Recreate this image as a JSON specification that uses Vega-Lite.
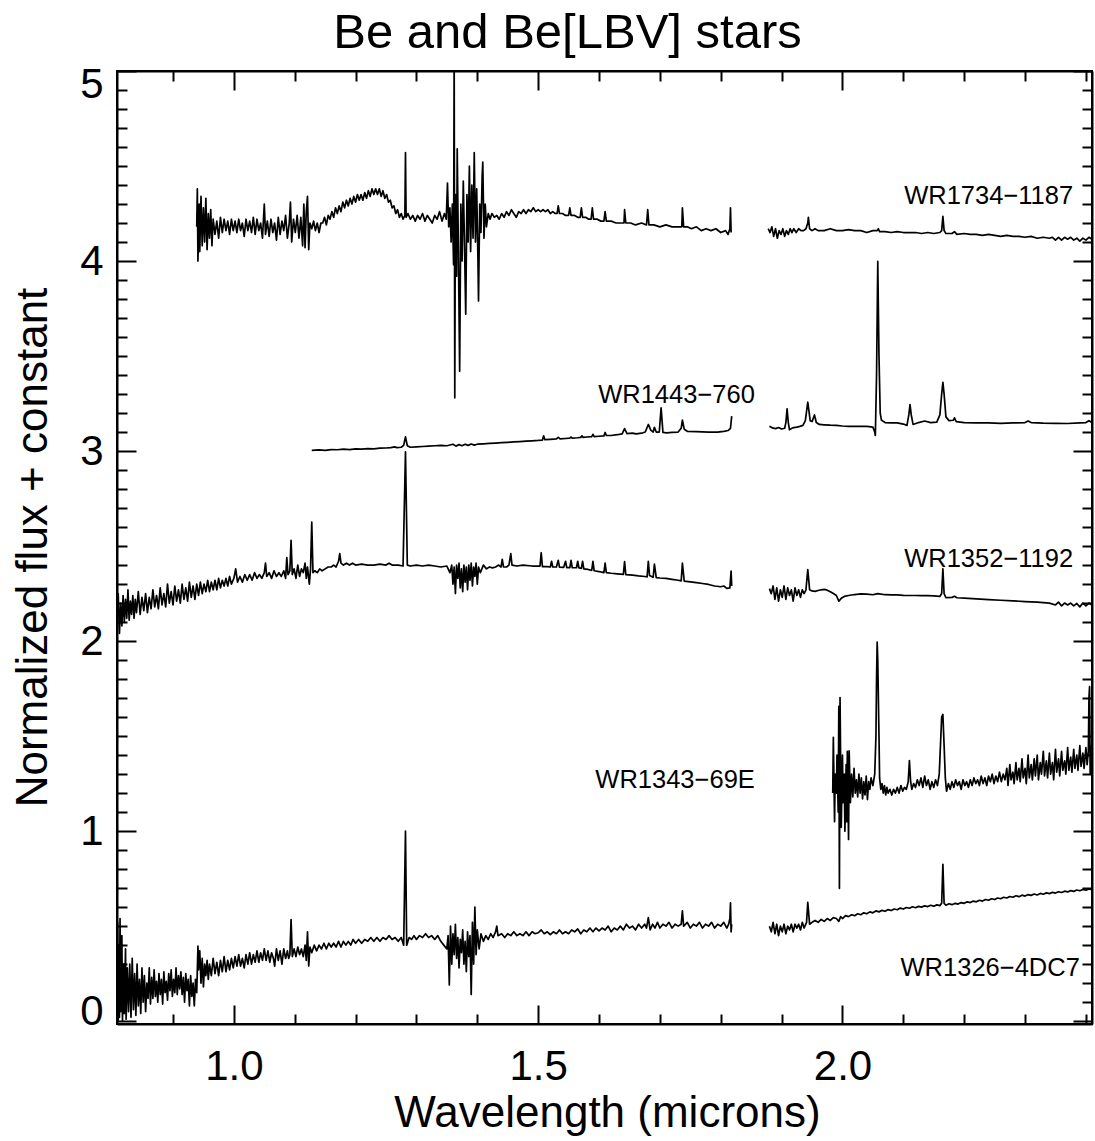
{
"$schema": "https://vega.github.io/schema/vega-lite/v6.json",
"width": 975, "height": 953,
"autosize": {"type": "none"},
"padding": {"left": 117, "top": 71, "right": 3, "bottom": 117},
"background": "white",
"config": {"view": {"stroke": "black", "strokeWidth": 2}, "font": "Liberation Sans"},
"title": {"text": "Be and Be[LBV] stars", "fontSize": 49, "font": "Liberation Sans", "fontWeight": "normal", "color": "black", "anchor": "middle", "dx": -37, "dy": 55, "offset": 21, "baseline": "alphabetic", "frame": "group"},
"datasets": {
"labels": [
{"x": 2.379, "y": 4.342, "t": "WR1734−1187"},
{"x": 1.856, "y": 3.295, "t": "WR1443−760"},
{"x": 2.379, "y": 2.432, "t": "WR1352−1192"},
{"x": 1.856, "y": 1.268, "t": "WR1343−69E"},
{"x": 2.390, "y": 0.279, "t": "WR1326−4DC7"}
],
"spec": [
{"g":"A1","x":0.939,"y":4.18},{"g":"A1","x":0.940,"y":4.38},{"g":"A1","x":0.941,"y":4.00},{"g":"A1","x":0.943,"y":4.30},{"g":"A1","x":0.944,"y":4.05},{"g":"A1","x":0.946,"y":4.34},{"g":"A1","x":0.948,"y":4.08},{"g":"A1","x":0.950,"y":4.28},{"g":"A1","x":0.952,"y":4.10},{"g":"A1","x":0.954,"y":4.33},{"g":"A1","x":0.956,"y":4.06},{"g":"A1","x":0.958,"y":4.25},{"g":"A1","x":0.960,"y":4.12},{"g":"A1","x":0.962,"y":4.27},{"g":"A1","x":0.964,"y":4.08},{"g":"A1","x":0.966,"y":4.22},{"g":"A1","x":0.969,"y":4.14},{"g":"A1","x":0.972,"y":4.21},{"g":"A1","x":0.975,"y":4.12},{"g":"A1","x":0.978,"y":4.23},{"g":"A1","x":0.981,"y":4.15},{"g":"A1","x":0.984,"y":4.22},{"g":"A1","x":0.987,"y":4.16},{"g":"A1","x":0.990,"y":4.21},{"g":"A1","x":0.993,"y":4.14},{"g":"A1","x":0.996,"y":4.22},{"g":"A1","x":0.999,"y":4.16},{"g":"A1","x":1.002,"y":4.21},{"g":"A1","x":1.005,"y":4.15},{"g":"A1","x":1.008,"y":4.22},{"g":"A1","x":1.011,"y":4.16},{"g":"A1","x":1.014,"y":4.20},{"g":"A1","x":1.017,"y":4.13},{"g":"A1","x":1.020,"y":4.22},{"g":"A1","x":1.023,"y":4.16},{"g":"A1","x":1.026,"y":4.21},{"g":"A1","x":1.029,"y":4.15},{"g":"A1","x":1.032,"y":4.23},{"g":"A1","x":1.035,"y":4.14},{"g":"A1","x":1.038,"y":4.22},{"g":"A1","x":1.041,"y":4.16},{"g":"A1","x":1.044,"y":4.20},{"g":"A1","x":1.047,"y":4.12},{"g":"A1","x":1.050,"y":4.30},{"g":"A1","x":1.052,"y":4.14},{"g":"A1","x":1.055,"y":4.21},{"g":"A1","x":1.058,"y":4.13},{"g":"A1","x":1.061,"y":4.22},{"g":"A1","x":1.064,"y":4.15},{"g":"A1","x":1.067,"y":4.20},{"g":"A1","x":1.070,"y":4.11},{"g":"A1","x":1.073,"y":4.23},{"g":"A1","x":1.076,"y":4.14},{"g":"A1","x":1.079,"y":4.21},{"g":"A1","x":1.082,"y":4.16},{"g":"A1","x":1.085,"y":4.24},{"g":"A1","x":1.088,"y":4.12},{"g":"A1","x":1.091,"y":4.20},{"g":"A1","x":1.093,"y":4.31},{"g":"A1","x":1.095,"y":4.10},{"g":"A1","x":1.098,"y":4.22},{"g":"A1","x":1.101,"y":4.15},{"g":"A1","x":1.104,"y":4.24},{"g":"A1","x":1.107,"y":4.12},{"g":"A1","x":1.110,"y":4.23},{"g":"A1","x":1.113,"y":4.08},{"g":"A1","x":1.115,"y":4.30},{"g":"A1","x":1.117,"y":4.07},{"g":"A1","x":1.119,"y":4.26},{"g":"A1","x":1.121,"y":4.34},{"g":"A1","x":1.123,"y":4.06},{"g":"A1","x":1.125,"y":4.20},{"g":"A1","x":1.128,"y":4.17},{"g":"A1","x":1.131,"y":4.21},{"g":"A1","x":1.134,"y":4.16},{"g":"A1","x":1.137,"y":4.20},{"g":"A1","x":1.140,"y":4.15},{"g":"A1","x":1.143,"y":4.20},{"g":"A1","x":1.146,"y":4.20},{"g":"A1","x":1.149,"y":4.23},{"g":"A1","x":1.152,"y":4.19},{"g":"A1","x":1.155,"y":4.24},{"g":"A1","x":1.158,"y":4.22},{"g":"A1","x":1.161,"y":4.26},{"g":"A1","x":1.164,"y":4.23},{"g":"A1","x":1.167,"y":4.28},{"g":"A1","x":1.170,"y":4.25},{"g":"A1","x":1.173,"y":4.29},{"g":"A1","x":1.176,"y":4.26},{"g":"A1","x":1.179,"y":4.31},{"g":"A1","x":1.182,"y":4.28},{"g":"A1","x":1.185,"y":4.32},{"g":"A1","x":1.188,"y":4.29},{"g":"A1","x":1.191,"y":4.33},{"g":"A1","x":1.194,"y":4.30},{"g":"A1","x":1.197,"y":4.34},{"g":"A1","x":1.200,"y":4.31},{"g":"A1","x":1.203,"y":4.35},{"g":"A1","x":1.206,"y":4.32},{"g":"A1","x":1.209,"y":4.35},{"g":"A1","x":1.212,"y":4.32},{"g":"A1","x":1.215,"y":4.36},{"g":"A1","x":1.218,"y":4.33},{"g":"A1","x":1.221,"y":4.37},{"g":"A1","x":1.224,"y":4.34},{"g":"A1","x":1.227,"y":4.38},{"g":"A1","x":1.230,"y":4.35},{"g":"A1","x":1.233,"y":4.38},{"g":"A1","x":1.236,"y":4.35},{"g":"A1","x":1.239,"y":4.38},{"g":"A1","x":1.242,"y":4.34},{"g":"A1","x":1.245,"y":4.37},{"g":"A1","x":1.248,"y":4.33},{"g":"A1","x":1.251,"y":4.35},{"g":"A1","x":1.254,"y":4.31},{"g":"A1","x":1.257,"y":4.32},{"g":"A1","x":1.260,"y":4.28},{"g":"A1","x":1.263,"y":4.29},{"g":"A1","x":1.266,"y":4.25},{"g":"A1","x":1.269,"y":4.27},{"g":"A1","x":1.272,"y":4.23},{"g":"A1","x":1.275,"y":4.25},{"g":"A1","x":1.278,"y":4.22},{"g":"A1","x":1.281,"y":4.24},{"g":"A1","x":1.282,"y":4.57},{"g":"A1","x":1.283,"y":4.23},{"g":"A1","x":1.286,"y":4.25},{"g":"A1","x":1.290,"y":4.22},{"g":"A1","x":1.294,"y":4.24},{"g":"A1","x":1.298,"y":4.21},{"g":"A1","x":1.302,"y":4.24},{"g":"A1","x":1.306,"y":4.22},{"g":"A1","x":1.310,"y":4.25},{"g":"A1","x":1.314,"y":4.21},{"g":"A1","x":1.318,"y":4.24},{"g":"A1","x":1.322,"y":4.22},{"g":"A1","x":1.326,"y":4.20},{"g":"A1","x":1.330,"y":4.24},{"g":"A1","x":1.334,"y":4.22},{"g":"A1","x":1.338,"y":4.26},{"g":"A1","x":1.342,"y":4.21},{"g":"A1","x":1.346,"y":4.25},{"g":"A1","x":1.349,"y":4.22},{"g":"A1","x":1.351,"y":4.41},{"g":"A1","x":1.353,"y":4.18},{"g":"A1","x":1.355,"y":4.28},{"g":"A1","x":1.357,"y":4.10},{"g":"A1","x":1.359,"y":4.30},{"g":"A1","x":1.361,"y":3.98},{"g":"A1","x":1.362,"y":5.10},{"g":"A1","x":1.363,"y":3.28},{"g":"A1","x":1.364,"y":4.35},{"g":"A1","x":1.366,"y":3.92},{"g":"A1","x":1.367,"y":4.59},{"g":"A1","x":1.369,"y":4.05},{"g":"A1","x":1.371,"y":3.42},{"g":"A1","x":1.373,"y":4.30},{"g":"A1","x":1.375,"y":4.00},{"g":"A1","x":1.377,"y":4.42},{"g":"A1","x":1.379,"y":4.08},{"g":"A1","x":1.381,"y":3.72},{"g":"A1","x":1.383,"y":4.35},{"g":"A1","x":1.385,"y":4.10},{"g":"A1","x":1.387,"y":4.50},{"g":"A1","x":1.389,"y":4.05},{"g":"A1","x":1.391,"y":4.40},{"g":"A1","x":1.393,"y":4.12},{"g":"A1","x":1.395,"y":4.57},{"g":"A1","x":1.397,"y":4.10},{"g":"A1","x":1.399,"y":4.38},{"g":"A1","x":1.401,"y":4.02},{"g":"A1","x":1.402,"y":3.79},{"g":"A1","x":1.404,"y":4.30},{"g":"A1","x":1.406,"y":4.15},{"g":"A1","x":1.408,"y":4.45},{"g":"A1","x":1.409,"y":4.52},{"g":"A1","x":1.411,"y":4.12},{"g":"A1","x":1.413,"y":4.30},{"g":"A1","x":1.415,"y":4.18},{"g":"A1","x":1.418,"y":4.25},{"g":"A1","x":1.421,"y":4.22},{"g":"A1","x":1.424,"y":4.25},{"g":"A1","x":1.428,"y":4.23},{"g":"A1","x":1.432,"y":4.24},{"g":"A1","x":1.436,"y":4.22},{"g":"A1","x":1.440,"y":4.25},{"g":"A1","x":1.444,"y":4.23},{"g":"A1","x":1.448,"y":4.26},{"g":"A1","x":1.452,"y":4.24},{"g":"A1","x":1.456,"y":4.27},{"g":"A1","x":1.460,"y":4.25},{"g":"A1","x":1.464,"y":4.23},{"g":"A1","x":1.468,"y":4.26},{"g":"A1","x":1.472,"y":4.25},{"g":"A1","x":1.476,"y":4.27},{"g":"A1","x":1.480,"y":4.25},{"g":"A1","x":1.484,"y":4.27},{"g":"A1","x":1.488,"y":4.26},{"g":"A1","x":1.492,"y":4.28},{"g":"A1","x":1.496,"y":4.26},{"g":"A1","x":1.500,"y":4.27},{"g":"A1","x":1.504,"y":4.26},{"g":"A1","x":1.508,"y":4.27},{"g":"A1","x":1.512,"y":4.26},{"g":"A1","x":1.516,"y":4.27},{"g":"A1","x":1.520,"y":4.25},{"g":"A1","x":1.524,"y":4.26},{"g":"A1","x":1.528,"y":4.25},{"g":"A1","x":1.531,"y":4.25},{"g":"A1","x":1.533,"y":4.29},{"g":"A1","x":1.535,"y":4.25},{"g":"A1","x":1.540,"y":4.25},{"g":"A1","x":1.545,"y":4.24},{"g":"A1","x":1.550,"y":4.24},{"g":"A1","x":1.552,"y":4.28},{"g":"A1","x":1.554,"y":4.24},{"g":"A1","x":1.560,"y":4.24},{"g":"A1","x":1.565,"y":4.23},{"g":"A1","x":1.569,"y":4.23},{"g":"A1","x":1.571,"y":4.28},{"g":"A1","x":1.573,"y":4.23},{"g":"A1","x":1.578,"y":4.23},{"g":"A1","x":1.583,"y":4.22},{"g":"A1","x":1.587,"y":4.22},{"g":"A1","x":1.589,"y":4.28},{"g":"A1","x":1.591,"y":4.22},{"g":"A1","x":1.597,"y":4.22},{"g":"A1","x":1.603,"y":4.21},{"g":"A1","x":1.608,"y":4.21},{"g":"A1","x":1.610,"y":4.26},{"g":"A1","x":1.612,"y":4.21},{"g":"A1","x":1.620,"y":4.21},{"g":"A1","x":1.628,"y":4.20},{"g":"A1","x":1.636,"y":4.20},{"g":"A1","x":1.641,"y":4.20},{"g":"A1","x":1.642,"y":4.27},{"g":"A1","x":1.644,"y":4.20},{"g":"A1","x":1.652,"y":4.20},{"g":"A1","x":1.660,"y":4.19},{"g":"A1","x":1.670,"y":4.20},{"g":"A1","x":1.678,"y":4.19},{"g":"A1","x":1.680,"y":4.27},{"g":"A1","x":1.682,"y":4.19},{"g":"A1","x":1.690,"y":4.19},{"g":"A1","x":1.700,"y":4.18},{"g":"A1","x":1.710,"y":4.19},{"g":"A1","x":1.720,"y":4.18},{"g":"A1","x":1.730,"y":4.18},{"g":"A1","x":1.736,"y":4.18},{"g":"A1","x":1.737,"y":4.28},{"g":"A1","x":1.739,"y":4.18},{"g":"A1","x":1.745,"y":4.18},{"g":"A1","x":1.752,"y":4.17},{"g":"A1","x":1.760,"y":4.18},{"g":"A1","x":1.768,"y":4.16},{"g":"A1","x":1.776,"y":4.17},{"g":"A1","x":1.784,"y":4.16},{"g":"A1","x":1.792,"y":4.17},{"g":"A1","x":1.800,"y":4.15},{"g":"A1","x":1.808,"y":4.16},{"g":"A1","x":1.812,"y":4.14},{"g":"A1","x":1.815,"y":4.17},{"g":"A1","x":1.816,"y":4.28},{"g":"A1","x":1.817,"y":4.15},
{"g":"A2","x":1.878,"y":4.17},{"g":"A2","x":1.881,"y":4.15},{"g":"A2","x":1.884,"y":4.18},{"g":"A2","x":1.887,"y":4.13},{"g":"A2","x":1.890,"y":4.17},{"g":"A2","x":1.893,"y":4.12},{"g":"A2","x":1.896,"y":4.16},{"g":"A2","x":1.899,"y":4.14},{"g":"A2","x":1.902,"y":4.17},{"g":"A2","x":1.905,"y":4.13},{"g":"A2","x":1.908,"y":4.16},{"g":"A2","x":1.911,"y":4.14},{"g":"A2","x":1.914,"y":4.17},{"g":"A2","x":1.917,"y":4.15},{"g":"A2","x":1.920,"y":4.17},{"g":"A2","x":1.924,"y":4.15},{"g":"A2","x":1.928,"y":4.17},{"g":"A2","x":1.932,"y":4.16},{"g":"A2","x":1.936,"y":4.16},{"g":"A2","x":1.940,"y":4.17},{"g":"A2","x":1.943,"y":4.20},{"g":"A2","x":1.944,"y":4.23},{"g":"A2","x":1.946,"y":4.17},{"g":"A2","x":1.950,"y":4.16},{"g":"A2","x":1.955,"y":4.17},{"g":"A2","x":1.960,"y":4.16},{"g":"A2","x":1.970,"y":4.16},{"g":"A2","x":1.980,"y":4.17},{"g":"A2","x":1.990,"y":4.16},{"g":"A2","x":2.000,"y":4.16},{"g":"A2","x":2.010,"y":4.165},{"g":"A2","x":2.020,"y":4.16},{"g":"A2","x":2.030,"y":4.16},{"g":"A2","x":2.040,"y":4.15},{"g":"A2","x":2.050,"y":4.16},{"g":"A2","x":2.057,"y":4.16},{"g":"A2","x":2.059,"y":4.17},{"g":"A2","x":2.061,"y":4.155},{"g":"A2","x":2.070,"y":4.155},{"g":"A2","x":2.080,"y":4.15},{"g":"A2","x":2.090,"y":4.155},{"g":"A2","x":2.100,"y":4.15},{"g":"A2","x":2.110,"y":4.15},{"g":"A2","x":2.120,"y":4.15},{"g":"A2","x":2.130,"y":4.145},{"g":"A2","x":2.140,"y":4.15},{"g":"A2","x":2.150,"y":4.145},{"g":"A2","x":2.160,"y":4.15},{"g":"A2","x":2.163,"y":4.16},{"g":"A2","x":2.165,"y":4.235},{"g":"A2","x":2.167,"y":4.16},{"g":"A2","x":2.170,"y":4.145},{"g":"A2","x":2.180,"y":4.145},{"g":"A2","x":2.184,"y":4.155},{"g":"A2","x":2.188,"y":4.14},{"g":"A2","x":2.200,"y":4.145},{"g":"A2","x":2.210,"y":4.14},{"g":"A2","x":2.220,"y":4.14},{"g":"A2","x":2.230,"y":4.135},{"g":"A2","x":2.240,"y":4.14},{"g":"A2","x":2.250,"y":4.135},{"g":"A2","x":2.260,"y":4.13},{"g":"A2","x":2.270,"y":4.135},{"g":"A2","x":2.280,"y":4.13},{"g":"A2","x":2.290,"y":4.13},{"g":"A2","x":2.300,"y":4.125},{"g":"A2","x":2.310,"y":4.13},{"g":"A2","x":2.320,"y":4.12},{"g":"A2","x":2.330,"y":4.125},{"g":"A2","x":2.340,"y":4.12},{"g":"A2","x":2.345,"y":4.125},{"g":"A2","x":2.350,"y":4.11},{"g":"A2","x":2.355,"y":4.125},{"g":"A2","x":2.360,"y":4.11},{"g":"A2","x":2.365,"y":4.125},{"g":"A2","x":2.370,"y":4.115},{"g":"A2","x":2.375,"y":4.125},{"g":"A2","x":2.380,"y":4.11},{"g":"A2","x":2.385,"y":4.12},{"g":"A2","x":2.390,"y":4.105},{"g":"A2","x":2.395,"y":4.12},{"g":"A2","x":2.400,"y":4.11},{"g":"A2","x":2.405,"y":4.125},{"g":"A2","x":2.410,"y":4.115},
{"g":"B1","x":1.128,"y":3.004},{"g":"B1","x":1.140,"y":3.006},{"g":"B1","x":1.150,"y":3.004},{"g":"B1","x":1.160,"y":3.008},{"g":"B1","x":1.170,"y":3.007},{"g":"B1","x":1.180,"y":3.010},{"g":"B1","x":1.190,"y":3.008},{"g":"B1","x":1.200,"y":3.011},{"g":"B1","x":1.210,"y":3.010},{"g":"B1","x":1.220,"y":3.013},{"g":"B1","x":1.230,"y":3.012},{"g":"B1","x":1.240,"y":3.015},{"g":"B1","x":1.250,"y":3.016},{"g":"B1","x":1.258,"y":3.018},{"g":"B1","x":1.264,"y":3.022},{"g":"B1","x":1.268,"y":3.018},{"g":"B1","x":1.275,"y":3.020},{"g":"B1","x":1.279,"y":3.030},{"g":"B1","x":1.282,"y":3.075},{"g":"B1","x":1.285,"y":3.028},{"g":"B1","x":1.290,"y":3.020},{"g":"B1","x":1.300,"y":3.022},{"g":"B1","x":1.310,"y":3.024},{"g":"B1","x":1.320,"y":3.026},{"g":"B1","x":1.330,"y":3.028},{"g":"B1","x":1.340,"y":3.030},{"g":"B1","x":1.350,"y":3.028},{"g":"B1","x":1.360,"y":3.036},{"g":"B1","x":1.365,"y":3.026},{"g":"B1","x":1.370,"y":3.034},{"g":"B1","x":1.375,"y":3.028},{"g":"B1","x":1.380,"y":3.036},{"g":"B1","x":1.385,"y":3.030},{"g":"B1","x":1.390,"y":3.037},{"g":"B1","x":1.395,"y":3.031},{"g":"B1","x":1.400,"y":3.036},{"g":"B1","x":1.410,"y":3.038},{"g":"B1","x":1.420,"y":3.040},{"g":"B1","x":1.430,"y":3.042},{"g":"B1","x":1.440,"y":3.044},{"g":"B1","x":1.450,"y":3.046},{"g":"B1","x":1.460,"y":3.048},{"g":"B1","x":1.470,"y":3.050},{"g":"B1","x":1.480,"y":3.052},{"g":"B1","x":1.490,"y":3.054},{"g":"B1","x":1.500,"y":3.056},{"g":"B1","x":1.507,"y":3.058},{"g":"B1","x":1.509,"y":3.080},{"g":"B1","x":1.511,"y":3.060},{"g":"B1","x":1.520,"y":3.062},{"g":"B1","x":1.530,"y":3.064},{"g":"B1","x":1.533,"y":3.072},{"g":"B1","x":1.536,"y":3.064},{"g":"B1","x":1.545,"y":3.066},{"g":"B1","x":1.552,"y":3.068},{"g":"B1","x":1.554,"y":3.074},{"g":"B1","x":1.556,"y":3.068},{"g":"B1","x":1.565,"y":3.070},{"g":"B1","x":1.570,"y":3.072},{"g":"B1","x":1.572,"y":3.080},{"g":"B1","x":1.574,"y":3.072},{"g":"B1","x":1.580,"y":3.074},{"g":"B1","x":1.588,"y":3.076},{"g":"B1","x":1.590,"y":3.088},{"g":"B1","x":1.592,"y":3.076},{"g":"B1","x":1.600,"y":3.078},{"g":"B1","x":1.608,"y":3.080},{"g":"B1","x":1.610,"y":3.098},{"g":"B1","x":1.612,"y":3.082},{"g":"B1","x":1.620,"y":3.082},{"g":"B1","x":1.630,"y":3.086},{"g":"B1","x":1.638,"y":3.090},{"g":"B1","x":1.642,"y":3.118},{"g":"B1","x":1.646,"y":3.092},{"g":"B1","x":1.655,"y":3.094},{"g":"B1","x":1.661,"y":3.090},{"g":"B1","x":1.670,"y":3.094},{"g":"B1","x":1.676,"y":3.100},{"g":"B1","x":1.681,"y":3.140},{"g":"B1","x":1.685,"y":3.110},{"g":"B1","x":1.689,"y":3.100},{"g":"B1","x":1.691,"y":3.125},{"g":"B1","x":1.694,"y":3.100},{"g":"B1","x":1.699,"y":3.100},{"g":"B1","x":1.702,"y":3.228},{"g":"B1","x":1.705,"y":3.098},{"g":"B1","x":1.711,"y":3.096},{"g":"B1","x":1.720,"y":3.098},{"g":"B1","x":1.730,"y":3.100},{"g":"B1","x":1.735,"y":3.120},{"g":"B1","x":1.737,"y":3.163},{"g":"B1","x":1.740,"y":3.115},{"g":"B1","x":1.745,"y":3.104},{"g":"B1","x":1.760,"y":3.102},{"g":"B1","x":1.780,"y":3.100},{"g":"B1","x":1.795,"y":3.100},{"g":"B1","x":1.805,"y":3.104},{"g":"B1","x":1.812,"y":3.108},{"g":"B1","x":1.816,"y":3.120},{"g":"B1","x":1.818,"y":3.184},
{"g":"B2","x":1.880,"y":3.130},{"g":"B2","x":1.885,"y":3.122},{"g":"B2","x":1.890,"y":3.118},{"g":"B2","x":1.895,"y":3.124},{"g":"B2","x":1.900,"y":3.116},{"g":"B2","x":1.905,"y":3.120},{"g":"B2","x":1.907,"y":3.150},{"g":"B2","x":1.909,"y":3.222},{"g":"B2","x":1.911,"y":3.150},{"g":"B2","x":1.913,"y":3.112},{"g":"B2","x":1.918,"y":3.122},{"g":"B2","x":1.925,"y":3.126},{"g":"B2","x":1.930,"y":3.130},{"g":"B2","x":1.935,"y":3.135},{"g":"B2","x":1.939,"y":3.160},{"g":"B2","x":1.943,"y":3.257},{"g":"B2","x":1.947,"y":3.160},{"g":"B2","x":1.950,"y":3.155},{"g":"B2","x":1.954,"y":3.190},{"g":"B2","x":1.957,"y":3.150},{"g":"B2","x":1.962,"y":3.140},{"g":"B2","x":1.970,"y":3.138},{"g":"B2","x":1.980,"y":3.136},{"g":"B2","x":1.990,"y":3.135},{"g":"B2","x":2.000,"y":3.132},{"g":"B2","x":2.010,"y":3.130},{"g":"B2","x":2.020,"y":3.130},{"g":"B2","x":2.030,"y":3.130},{"g":"B2","x":2.040,"y":3.130},{"g":"B2","x":2.050,"y":3.126},{"g":"B2","x":2.053,"y":3.100},{"g":"B2","x":2.054,"y":3.082},{"g":"B2","x":2.056,"y":3.400},{"g":"B2","x":2.058,"y":3.998},{"g":"B2","x":2.060,"y":3.500},{"g":"B2","x":2.062,"y":3.200},{"g":"B2","x":2.064,"y":3.163},{"g":"B2","x":2.070,"y":3.150},{"g":"B2","x":2.080,"y":3.148},{"g":"B2","x":2.090,"y":3.148},{"g":"B2","x":2.100,"y":3.142},{"g":"B2","x":2.106,"y":3.135},{"g":"B2","x":2.109,"y":3.190},{"g":"B2","x":2.111,"y":3.245},{"g":"B2","x":2.113,"y":3.190},{"g":"B2","x":2.116,"y":3.140},{"g":"B2","x":2.125,"y":3.150},{"g":"B2","x":2.135,"y":3.158},{"g":"B2","x":2.145,"y":3.150},{"g":"B2","x":2.155,"y":3.152},{"g":"B2","x":2.160,"y":3.190},{"g":"B2","x":2.163,"y":3.300},{"g":"B2","x":2.165,"y":3.362},{"g":"B2","x":2.167,"y":3.300},{"g":"B2","x":2.170,"y":3.180},{"g":"B2","x":2.175,"y":3.160},{"g":"B2","x":2.182,"y":3.162},{"g":"B2","x":2.184,"y":3.175},{"g":"B2","x":2.187,"y":3.155},{"g":"B2","x":2.200,"y":3.150},{"g":"B2","x":2.220,"y":3.148},{"g":"B2","x":2.240,"y":3.148},{"g":"B2","x":2.260,"y":3.146},{"g":"B2","x":2.280,"y":3.148},{"g":"B2","x":2.300,"y":3.150},{"g":"B2","x":2.305,"y":3.158},{"g":"B2","x":2.310,"y":3.150},{"g":"B2","x":2.330,"y":3.147},{"g":"B2","x":2.350,"y":3.146},{"g":"B2","x":2.370,"y":3.145},{"g":"B2","x":2.390,"y":3.148},{"g":"B2","x":2.400,"y":3.150},{"g":"B2","x":2.405,"y":3.160},{"g":"B2","x":2.410,"y":3.150},
{"g":"C1","x":0.808,"y":2.10},{"g":"C1","x":0.810,"y":2.25},{"g":"C1","x":0.812,"y":2.04},{"g":"C1","x":0.814,"y":2.20},{"g":"C1","x":0.816,"y":2.08},{"g":"C1","x":0.818,"y":2.24},{"g":"C1","x":0.820,"y":2.10},{"g":"C1","x":0.822,"y":2.22},{"g":"C1","x":0.824,"y":2.12},{"g":"C1","x":0.826,"y":2.27},{"g":"C1","x":0.828,"y":2.11},{"g":"C1","x":0.830,"y":2.21},{"g":"C1","x":0.832,"y":2.14},{"g":"C1","x":0.834,"y":2.24},{"g":"C1","x":0.836,"y":2.12},{"g":"C1","x":0.838,"y":2.22},{"g":"C1","x":0.840,"y":2.15},{"g":"C1","x":0.843,"y":2.26},{"g":"C1","x":0.846,"y":2.14},{"g":"C1","x":0.849,"y":2.23},{"g":"C1","x":0.852,"y":2.16},{"g":"C1","x":0.855,"y":2.25},{"g":"C1","x":0.858,"y":2.15},{"g":"C1","x":0.861,"y":2.23},{"g":"C1","x":0.864,"y":2.17},{"g":"C1","x":0.867,"y":2.27},{"g":"C1","x":0.870,"y":2.18},{"g":"C1","x":0.873,"y":2.24},{"g":"C1","x":0.876,"y":2.17},{"g":"C1","x":0.879,"y":2.28},{"g":"C1","x":0.882,"y":2.19},{"g":"C1","x":0.885,"y":2.25},{"g":"C1","x":0.888,"y":2.18},{"g":"C1","x":0.891,"y":2.30},{"g":"C1","x":0.894,"y":2.20},{"g":"C1","x":0.897,"y":2.26},{"g":"C1","x":0.900,"y":2.19},{"g":"C1","x":0.903,"y":2.29},{"g":"C1","x":0.906,"y":2.21},{"g":"C1","x":0.909,"y":2.27},{"g":"C1","x":0.912,"y":2.20},{"g":"C1","x":0.915,"y":2.30},{"g":"C1","x":0.918,"y":2.22},{"g":"C1","x":0.921,"y":2.28},{"g":"C1","x":0.924,"y":2.21},{"g":"C1","x":0.927,"y":2.31},{"g":"C1","x":0.930,"y":2.23},{"g":"C1","x":0.933,"y":2.29},{"g":"C1","x":0.936,"y":2.22},{"g":"C1","x":0.939,"y":2.30},{"g":"C1","x":0.942,"y":2.24},{"g":"C1","x":0.945,"y":2.31},{"g":"C1","x":0.948,"y":2.25},{"g":"C1","x":0.951,"y":2.30},{"g":"C1","x":0.954,"y":2.26},{"g":"C1","x":0.957,"y":2.32},{"g":"C1","x":0.960,"y":2.26},{"g":"C1","x":0.963,"y":2.31},{"g":"C1","x":0.966,"y":2.27},{"g":"C1","x":0.969,"y":2.32},{"g":"C1","x":0.972,"y":2.27},{"g":"C1","x":0.975,"y":2.33},{"g":"C1","x":0.978,"y":2.28},{"g":"C1","x":0.981,"y":2.32},{"g":"C1","x":0.984,"y":2.29},{"g":"C1","x":0.987,"y":2.33},{"g":"C1","x":0.990,"y":2.29},{"g":"C1","x":0.993,"y":2.34},{"g":"C1","x":0.996,"y":2.30},{"g":"C1","x":1.000,"y":2.33},{"g":"C1","x":1.003,"y":2.38},{"g":"C1","x":1.006,"y":2.31},{"g":"C1","x":1.010,"y":2.34},{"g":"C1","x":1.014,"y":2.31},{"g":"C1","x":1.018,"y":2.35},{"g":"C1","x":1.022,"y":2.32},{"g":"C1","x":1.026,"y":2.35},{"g":"C1","x":1.030,"y":2.32},{"g":"C1","x":1.034,"y":2.36},{"g":"C1","x":1.038,"y":2.33},{"g":"C1","x":1.042,"y":2.35},{"g":"C1","x":1.046,"y":2.33},{"g":"C1","x":1.050,"y":2.36},{"g":"C1","x":1.052,"y":2.41},{"g":"C1","x":1.054,"y":2.34},{"g":"C1","x":1.058,"y":2.36},{"g":"C1","x":1.062,"y":2.33},{"g":"C1","x":1.066,"y":2.37},{"g":"C1","x":1.070,"y":2.34},{"g":"C1","x":1.074,"y":2.36},{"g":"C1","x":1.078,"y":2.34},{"g":"C1","x":1.082,"y":2.37},{"g":"C1","x":1.085,"y":2.33},{"g":"C1","x":1.087,"y":2.44},{"g":"C1","x":1.089,"y":2.35},{"g":"C1","x":1.092,"y":2.37},{"g":"C1","x":1.094,"y":2.53},{"g":"C1","x":1.096,"y":2.35},{"g":"C1","x":1.099,"y":2.38},{"g":"C1","x":1.102,"y":2.33},{"g":"C1","x":1.105,"y":2.40},{"g":"C1","x":1.108,"y":2.34},{"g":"C1","x":1.111,"y":2.38},{"g":"C1","x":1.114,"y":2.36},{"g":"C1","x":1.117,"y":2.41},{"g":"C1","x":1.119,"y":2.33},{"g":"C1","x":1.121,"y":2.39},{"g":"C1","x":1.124,"y":2.30},{"g":"C1","x":1.126,"y":2.38},{"g":"C1","x":1.128,"y":2.626},{"g":"C1","x":1.130,"y":2.36},{"g":"C1","x":1.133,"y":2.37},{"g":"C1","x":1.137,"y":2.36},{"g":"C1","x":1.141,"y":2.38},{"g":"C1","x":1.145,"y":2.37},{"g":"C1","x":1.150,"y":2.38},{"g":"C1","x":1.155,"y":2.39},{"g":"C1","x":1.160,"y":2.39},{"g":"C1","x":1.164,"y":2.40},{"g":"C1","x":1.168,"y":2.39},{"g":"C1","x":1.172,"y":2.42},{"g":"C1","x":1.174,"y":2.46},{"g":"C1","x":1.176,"y":2.41},{"g":"C1","x":1.180,"y":2.40},{"g":"C1","x":1.185,"y":2.41},{"g":"C1","x":1.190,"y":2.40},{"g":"C1","x":1.195,"y":2.41},{"g":"C1","x":1.200,"y":2.40},{"g":"C1","x":1.210,"y":2.405},{"g":"C1","x":1.220,"y":2.40},{"g":"C1","x":1.230,"y":2.40},{"g":"C1","x":1.240,"y":2.405},{"g":"C1","x":1.250,"y":2.40},{"g":"C1","x":1.255,"y":2.41},{"g":"C1","x":1.260,"y":2.40},{"g":"C1","x":1.270,"y":2.40},{"g":"C1","x":1.278,"y":2.395},{"g":"C1","x":1.282,"y":2.996},{"g":"C1","x":1.285,"y":2.40},{"g":"C1","x":1.290,"y":2.395},{"g":"C1","x":1.300,"y":2.40},{"g":"C1","x":1.310,"y":2.395},{"g":"C1","x":1.320,"y":2.40},{"g":"C1","x":1.330,"y":2.395},{"g":"C1","x":1.340,"y":2.39},{"g":"C1","x":1.350,"y":2.395},{"g":"C1","x":1.355,"y":2.36},{"g":"C1","x":1.358,"y":2.40},{"g":"C1","x":1.360,"y":2.30},{"g":"C1","x":1.362,"y":2.39},{"g":"C1","x":1.364,"y":2.25},{"g":"C1","x":1.366,"y":2.40},{"g":"C1","x":1.368,"y":2.33},{"g":"C1","x":1.370,"y":2.41},{"g":"C1","x":1.372,"y":2.28},{"g":"C1","x":1.374,"y":2.38},{"g":"C1","x":1.376,"y":2.26},{"g":"C1","x":1.378,"y":2.40},{"g":"C1","x":1.380,"y":2.31},{"g":"C1","x":1.382,"y":2.39},{"g":"C1","x":1.384,"y":2.27},{"g":"C1","x":1.386,"y":2.40},{"g":"C1","x":1.388,"y":2.32},{"g":"C1","x":1.390,"y":2.41},{"g":"C1","x":1.392,"y":2.29},{"g":"C1","x":1.394,"y":2.39},{"g":"C1","x":1.396,"y":2.34},{"g":"C1","x":1.398,"y":2.41},{"g":"C1","x":1.400,"y":2.30},{"g":"C1","x":1.402,"y":2.39},{"g":"C1","x":1.405,"y":2.36},{"g":"C1","x":1.410,"y":2.40},{"g":"C1","x":1.415,"y":2.38},{"g":"C1","x":1.420,"y":2.39},{"g":"C1","x":1.425,"y":2.385},{"g":"C1","x":1.430,"y":2.39},{"g":"C1","x":1.435,"y":2.40},{"g":"C1","x":1.439,"y":2.39},{"g":"C1","x":1.441,"y":2.43},{"g":"C1","x":1.443,"y":2.39},{"g":"C1","x":1.448,"y":2.39},{"g":"C1","x":1.452,"y":2.40},{"g":"C1","x":1.455,"y":2.46},{"g":"C1","x":1.457,"y":2.40},{"g":"C1","x":1.465,"y":2.395},{"g":"C1","x":1.475,"y":2.40},{"g":"C1","x":1.490,"y":2.395},{"g":"C1","x":1.500,"y":2.395},{"g":"C1","x":1.503,"y":2.395},{"g":"C1","x":1.505,"y":2.465},{"g":"C1","x":1.507,"y":2.392},{"g":"C1","x":1.515,"y":2.392},{"g":"C1","x":1.520,"y":2.39},{"g":"C1","x":1.522,"y":2.42},{"g":"C1","x":1.524,"y":2.39},{"g":"C1","x":1.530,"y":2.39},{"g":"C1","x":1.533,"y":2.425},{"g":"C1","x":1.535,"y":2.389},{"g":"C1","x":1.542,"y":2.388},{"g":"C1","x":1.545,"y":2.42},{"g":"C1","x":1.547,"y":2.387},{"g":"C1","x":1.552,"y":2.387},{"g":"C1","x":1.554,"y":2.425},{"g":"C1","x":1.556,"y":2.386},{"g":"C1","x":1.563,"y":2.386},{"g":"C1","x":1.565,"y":2.42},{"g":"C1","x":1.567,"y":2.385},{"g":"C1","x":1.571,"y":2.383},{"g":"C1","x":1.573,"y":2.42},{"g":"C1","x":1.575,"y":2.38},{"g":"C1","x":1.582,"y":2.377},{"g":"C1","x":1.588,"y":2.372},{"g":"C1","x":1.590,"y":2.42},{"g":"C1","x":1.592,"y":2.37},{"g":"C1","x":1.600,"y":2.366},{"g":"C1","x":1.608,"y":2.36},{"g":"C1","x":1.610,"y":2.41},{"g":"C1","x":1.612,"y":2.36},{"g":"C1","x":1.620,"y":2.357},{"g":"C1","x":1.630,"y":2.354},{"g":"C1","x":1.640,"y":2.351},{"g":"C1","x":1.642,"y":2.418},{"g":"C1","x":1.644,"y":2.35},{"g":"C1","x":1.655,"y":2.347},{"g":"C1","x":1.665,"y":2.343},{"g":"C1","x":1.675,"y":2.34},{"g":"C1","x":1.679,"y":2.338},{"g":"C1","x":1.681,"y":2.42},{"g":"C1","x":1.683,"y":2.345},{"g":"C1","x":1.689,"y":2.336},{"g":"C1","x":1.691,"y":2.405},{"g":"C1","x":1.694,"y":2.334},{"g":"C1","x":1.700,"y":2.332},{"g":"C1","x":1.710,"y":2.33},{"g":"C1","x":1.720,"y":2.325},{"g":"C1","x":1.730,"y":2.32},{"g":"C1","x":1.735,"y":2.317},{"g":"C1","x":1.737,"y":2.41},{"g":"C1","x":1.740,"y":2.316},{"g":"C1","x":1.750,"y":2.312},{"g":"C1","x":1.760,"y":2.308},{"g":"C1","x":1.770,"y":2.303},{"g":"C1","x":1.780,"y":2.298},{"g":"C1","x":1.790,"y":2.29},{"g":"C1","x":1.800,"y":2.286},{"g":"C1","x":1.805,"y":2.29},{"g":"C1","x":1.810,"y":2.277},{"g":"C1","x":1.815,"y":2.28},{"g":"C1","x":1.817,"y":2.368},{"g":"C1","x":1.818,"y":2.29},
{"g":"C2","x":1.880,"y":2.276},{"g":"C2","x":1.883,"y":2.25},{"g":"C2","x":1.886,"y":2.29},{"g":"C2","x":1.889,"y":2.22},{"g":"C2","x":1.892,"y":2.28},{"g":"C2","x":1.895,"y":2.21},{"g":"C2","x":1.898,"y":2.27},{"g":"C2","x":1.901,"y":2.23},{"g":"C2","x":1.904,"y":2.29},{"g":"C2","x":1.907,"y":2.22},{"g":"C2","x":1.910,"y":2.28},{"g":"C2","x":1.913,"y":2.24},{"g":"C2","x":1.916,"y":2.27},{"g":"C2","x":1.919,"y":2.21},{"g":"C2","x":1.922,"y":2.28},{"g":"C2","x":1.925,"y":2.24},{"g":"C2","x":1.928,"y":2.27},{"g":"C2","x":1.931,"y":2.23},{"g":"C2","x":1.934,"y":2.27},{"g":"C2","x":1.937,"y":2.25},{"g":"C2","x":1.940,"y":2.27},{"g":"C2","x":1.943,"y":2.376},{"g":"C2","x":1.946,"y":2.27},{"g":"C2","x":1.950,"y":2.264},{"g":"C2","x":1.955,"y":2.262},{"g":"C2","x":1.960,"y":2.266},{"g":"C2","x":1.965,"y":2.27},{"g":"C2","x":1.970,"y":2.272},{"g":"C2","x":1.975,"y":2.268},{"g":"C2","x":1.980,"y":2.26},{"g":"C2","x":1.985,"y":2.25},{"g":"C2","x":1.990,"y":2.24},{"g":"C2","x":1.994,"y":2.21},{"g":"C2","x":1.998,"y":2.225},{"g":"C2","x":2.003,"y":2.235},{"g":"C2","x":2.010,"y":2.24},{"g":"C2","x":2.020,"y":2.245},{"g":"C2","x":2.030,"y":2.248},{"g":"C2","x":2.040,"y":2.247},{"g":"C2","x":2.050,"y":2.244},{"g":"C2","x":2.058,"y":2.25},{"g":"C2","x":2.070,"y":2.244},{"g":"C2","x":2.080,"y":2.243},{"g":"C2","x":2.090,"y":2.243},{"g":"C2","x":2.100,"y":2.241},{"g":"C2","x":2.110,"y":2.24},{"g":"C2","x":2.120,"y":2.240},{"g":"C2","x":2.130,"y":2.239},{"g":"C2","x":2.140,"y":2.239},{"g":"C2","x":2.150,"y":2.238},{"g":"C2","x":2.160,"y":2.235},{"g":"C2","x":2.163,"y":2.25},{"g":"C2","x":2.165,"y":2.38},{"g":"C2","x":2.167,"y":2.25},{"g":"C2","x":2.170,"y":2.229},{"g":"C2","x":2.180,"y":2.23},{"g":"C2","x":2.184,"y":2.236},{"g":"C2","x":2.188,"y":2.228},{"g":"C2","x":2.200,"y":2.226},{"g":"C2","x":2.220,"y":2.222},{"g":"C2","x":2.240,"y":2.218},{"g":"C2","x":2.260,"y":2.215},{"g":"C2","x":2.280,"y":2.212},{"g":"C2","x":2.300,"y":2.208},{"g":"C2","x":2.320,"y":2.205},{"g":"C2","x":2.340,"y":2.20},{"g":"C2","x":2.350,"y":2.19},{"g":"C2","x":2.355,"y":2.205},{"g":"C2","x":2.360,"y":2.185},{"g":"C2","x":2.365,"y":2.20},{"g":"C2","x":2.370,"y":2.19},{"g":"C2","x":2.375,"y":2.20},{"g":"C2","x":2.380,"y":2.185},{"g":"C2","x":2.385,"y":2.198},{"g":"C2","x":2.390,"y":2.18},{"g":"C2","x":2.395,"y":2.20},{"g":"C2","x":2.400,"y":2.185},{"g":"C2","x":2.405,"y":2.20},{"g":"C2","x":2.410,"y":2.19},
{"g":"D","x":1.984,"y":1.201},{"g":"D","x":1.985,"y":1.493},{"g":"D","x":1.987,"y":1.05},{"g":"D","x":1.988,"y":1.30},{"g":"D","x":1.990,"y":1.20},{"g":"D","x":1.991,"y":1.40},{"g":"D","x":1.993,"y":1.10},{"g":"D","x":1.994,"y":1.656},{"g":"D","x":1.995,"y":0.699},{"g":"D","x":1.996,"y":1.703},{"g":"D","x":1.998,"y":1.02},{"g":"D","x":2.000,"y":1.40},{"g":"D","x":2.001,"y":1.15},{"g":"D","x":2.003,"y":1.30},{"g":"D","x":2.004,"y":1.00},{"g":"D","x":2.006,"y":1.35},{"g":"D","x":2.007,"y":1.05},{"g":"D","x":2.008,"y":1.42},{"g":"D","x":2.010,"y":0.956},{"g":"D","x":2.011,"y":1.423},{"g":"D","x":2.013,"y":1.15},{"g":"D","x":2.015,"y":1.30},{"g":"D","x":2.017,"y":1.18},{"g":"D","x":2.019,"y":1.33},{"g":"D","x":2.021,"y":1.20},{"g":"D","x":2.023,"y":1.27},{"g":"D","x":2.025,"y":1.18},{"g":"D","x":2.027,"y":1.30},{"g":"D","x":2.029,"y":1.20},{"g":"D","x":2.031,"y":1.28},{"g":"D","x":2.033,"y":1.17},{"g":"D","x":2.035,"y":1.26},{"g":"D","x":2.037,"y":1.19},{"g":"D","x":2.039,"y":1.29},{"g":"D","x":2.041,"y":1.166},{"g":"D","x":2.043,"y":1.26},{"g":"D","x":2.045,"y":1.22},{"g":"D","x":2.047,"y":1.28},{"g":"D","x":2.050,"y":1.24},{"g":"D","x":2.053,"y":1.30},{"g":"D","x":2.055,"y":1.50},{"g":"D","x":2.056,"y":1.80},{"g":"D","x":2.057,"y":1.995},{"g":"D","x":2.058,"y":1.90},{"g":"D","x":2.060,"y":1.50},{"g":"D","x":2.061,"y":1.28},{"g":"D","x":2.063,"y":1.22},{"g":"D","x":2.065,"y":1.25},{"g":"D","x":2.067,"y":1.20},{"g":"D","x":2.069,"y":1.24},{"g":"D","x":2.071,"y":1.19},{"g":"D","x":2.073,"y":1.23},{"g":"D","x":2.075,"y":1.20},{"g":"D","x":2.078,"y":1.22},{"g":"D","x":2.081,"y":1.19},{"g":"D","x":2.084,"y":1.22},{"g":"D","x":2.087,"y":1.20},{"g":"D","x":2.090,"y":1.23},{"g":"D","x":2.093,"y":1.20},{"g":"D","x":2.096,"y":1.24},{"g":"D","x":2.099,"y":1.21},{"g":"D","x":2.102,"y":1.23},{"g":"D","x":2.105,"y":1.22},{"g":"D","x":2.108,"y":1.26},{"g":"D","x":2.110,"y":1.371},{"g":"D","x":2.112,"y":1.26},{"g":"D","x":2.114,"y":1.22},{"g":"D","x":2.117,"y":1.25},{"g":"D","x":2.120,"y":1.23},{"g":"D","x":2.123,"y":1.27},{"g":"D","x":2.126,"y":1.24},{"g":"D","x":2.129,"y":1.28},{"g":"D","x":2.132,"y":1.23},{"g":"D","x":2.135,"y":1.29},{"g":"D","x":2.138,"y":1.24},{"g":"D","x":2.141,"y":1.27},{"g":"D","x":2.144,"y":1.22},{"g":"D","x":2.147,"y":1.26},{"g":"D","x":2.150,"y":1.23},{"g":"D","x":2.153,"y":1.27},{"g":"D","x":2.156,"y":1.24},{"g":"D","x":2.159,"y":1.30},{"g":"D","x":2.161,"y":1.45},{"g":"D","x":2.163,"y":1.60},{"g":"D","x":2.165,"y":1.614},{"g":"D","x":2.167,"y":1.45},{"g":"D","x":2.169,"y":1.28},{"g":"D","x":2.171,"y":1.21},{"g":"D","x":2.174,"y":1.25},{"g":"D","x":2.177,"y":1.22},{"g":"D","x":2.180,"y":1.26},{"g":"D","x":2.183,"y":1.23},{"g":"D","x":2.186,"y":1.27},{"g":"D","x":2.189,"y":1.24},{"g":"D","x":2.192,"y":1.26},{"g":"D","x":2.195,"y":1.22},{"g":"D","x":2.198,"y":1.27},{"g":"D","x":2.201,"y":1.24},{"g":"D","x":2.204,"y":1.26},{"g":"D","x":2.207,"y":1.23},{"g":"D","x":2.210,"y":1.27},{"g":"D","x":2.213,"y":1.24},{"g":"D","x":2.216,"y":1.28},{"g":"D","x":2.219,"y":1.25},{"g":"D","x":2.222,"y":1.27},{"g":"D","x":2.225,"y":1.24},{"g":"D","x":2.228,"y":1.29},{"g":"D","x":2.231,"y":1.25},{"g":"D","x":2.234,"y":1.28},{"g":"D","x":2.237,"y":1.24},{"g":"D","x":2.240,"y":1.29},{"g":"D","x":2.243,"y":1.26},{"g":"D","x":2.246,"y":1.30},{"g":"D","x":2.249,"y":1.25},{"g":"D","x":2.252,"y":1.29},{"g":"D","x":2.255,"y":1.26},{"g":"D","x":2.258,"y":1.31},{"g":"D","x":2.261,"y":1.26},{"g":"D","x":2.264,"y":1.30},{"g":"D","x":2.267,"y":1.27},{"g":"D","x":2.270,"y":1.33},{"g":"D","x":2.272,"y":1.24},{"g":"D","x":2.275,"y":1.35},{"g":"D","x":2.277,"y":1.27},{"g":"D","x":2.280,"y":1.31},{"g":"D","x":2.282,"y":1.25},{"g":"D","x":2.285,"y":1.36},{"g":"D","x":2.287,"y":1.27},{"g":"D","x":2.290,"y":1.33},{"g":"D","x":2.292,"y":1.26},{"g":"D","x":2.295,"y":1.38},{"g":"D","x":2.297,"y":1.28},{"g":"D","x":2.300,"y":1.33},{"g":"D","x":2.302,"y":1.25},{"g":"D","x":2.305,"y":1.40},{"g":"D","x":2.307,"y":1.28},{"g":"D","x":2.310,"y":1.35},{"g":"D","x":2.312,"y":1.27},{"g":"D","x":2.315,"y":1.38},{"g":"D","x":2.317,"y":1.29},{"g":"D","x":2.320,"y":1.40},{"g":"D","x":2.322,"y":1.27},{"g":"D","x":2.325,"y":1.36},{"g":"D","x":2.327,"y":1.30},{"g":"D","x":2.330,"y":1.42},{"g":"D","x":2.332,"y":1.29},{"g":"D","x":2.335,"y":1.37},{"g":"D","x":2.337,"y":1.28},{"g":"D","x":2.340,"y":1.41},{"g":"D","x":2.342,"y":1.30},{"g":"D","x":2.345,"y":1.36},{"g":"D","x":2.347,"y":1.27},{"g":"D","x":2.350,"y":1.43},{"g":"D","x":2.352,"y":1.31},{"g":"D","x":2.355,"y":1.38},{"g":"D","x":2.357,"y":1.29},{"g":"D","x":2.360,"y":1.42},{"g":"D","x":2.362,"y":1.32},{"g":"D","x":2.365,"y":1.37},{"g":"D","x":2.367,"y":1.30},{"g":"D","x":2.370,"y":1.44},{"g":"D","x":2.372,"y":1.32},{"g":"D","x":2.375,"y":1.39},{"g":"D","x":2.377,"y":1.31},{"g":"D","x":2.380,"y":1.43},{"g":"D","x":2.382,"y":1.33},{"g":"D","x":2.385,"y":1.40},{"g":"D","x":2.387,"y":1.32},{"g":"D","x":2.390,"y":1.45},{"g":"D","x":2.392,"y":1.34},{"g":"D","x":2.395,"y":1.41},{"g":"D","x":2.397,"y":1.33},{"g":"D","x":2.400,"y":1.44},{"g":"D","x":2.402,"y":1.35},{"g":"D","x":2.404,"y":1.42},{"g":"D","x":2.405,"y":1.70},{"g":"D","x":2.406,"y":1.76},{"g":"D","x":2.407,"y":1.30},{"g":"D","x":2.408,"y":1.45},{"g":"D","x":2.409,"y":1.38},{"g":"D","x":2.410,"y":1.40},
{"g":"E1","x":0.808,"y":0.05},{"g":"E1","x":0.809,"y":0.52},{"g":"E1","x":0.810,"y":0.00},{"g":"E1","x":0.811,"y":0.40},{"g":"E1","x":0.812,"y":0.02},{"g":"E1","x":0.813,"y":0.54},{"g":"E1","x":0.814,"y":0.05},{"g":"E1","x":0.816,"y":0.45},{"g":"E1","x":0.817,"y":0.00},{"g":"E1","x":0.819,"y":0.30},{"g":"E1","x":0.820,"y":0.04},{"g":"E1","x":0.822,"y":0.38},{"g":"E1","x":0.823,"y":0.01},{"g":"E1","x":0.825,"y":0.28},{"g":"E1","x":0.827,"y":0.05},{"g":"E1","x":0.829,"y":0.30},{"g":"E1","x":0.831,"y":0.02},{"g":"E1","x":0.833,"y":0.33},{"g":"E1","x":0.835,"y":0.06},{"g":"E1","x":0.837,"y":0.25},{"g":"E1","x":0.839,"y":0.03},{"g":"E1","x":0.841,"y":0.30},{"g":"E1","x":0.843,"y":0.08},{"g":"E1","x":0.845,"y":0.22},{"g":"E1","x":0.847,"y":0.04},{"g":"E1","x":0.849,"y":0.28},{"g":"E1","x":0.851,"y":0.10},{"g":"E1","x":0.853,"y":0.24},{"g":"E1","x":0.855,"y":0.05},{"g":"E1","x":0.857,"y":0.20},{"g":"E1","x":0.859,"y":0.12},{"g":"E1","x":0.861,"y":0.28},{"g":"E1","x":0.863,"y":0.09},{"g":"E1","x":0.865,"y":0.23},{"g":"E1","x":0.867,"y":0.12},{"g":"E1","x":0.869,"y":0.27},{"g":"E1","x":0.871,"y":0.13},{"g":"E1","x":0.873,"y":0.21},{"g":"E1","x":0.875,"y":0.10},{"g":"E1","x":0.877,"y":0.25},{"g":"E1","x":0.879,"y":0.14},{"g":"E1","x":0.881,"y":0.22},{"g":"E1","x":0.883,"y":0.09},{"g":"E1","x":0.885,"y":0.26},{"g":"E1","x":0.887,"y":0.15},{"g":"E1","x":0.889,"y":0.21},{"g":"E1","x":0.891,"y":0.11},{"g":"E1","x":0.893,"y":0.25},{"g":"E1","x":0.895,"y":0.16},{"g":"E1","x":0.897,"y":0.27},{"g":"E1","x":0.899,"y":0.13},{"g":"E1","x":0.901,"y":0.22},{"g":"E1","x":0.903,"y":0.15},{"g":"E1","x":0.905,"y":0.28},{"g":"E1","x":0.907,"y":0.14},{"g":"E1","x":0.909,"y":0.24},{"g":"E1","x":0.911,"y":0.17},{"g":"E1","x":0.913,"y":0.26},{"g":"E1","x":0.915,"y":0.14},{"g":"E1","x":0.917,"y":0.23},{"g":"E1","x":0.919,"y":0.10},{"g":"E1","x":0.921,"y":0.25},{"g":"E1","x":0.923,"y":0.16},{"g":"E1","x":0.925,"y":0.22},{"g":"E1","x":0.927,"y":0.08},{"g":"E1","x":0.929,"y":0.24},{"g":"E1","x":0.931,"y":0.13},{"g":"E1","x":0.933,"y":0.20},{"g":"E1","x":0.935,"y":0.08},{"g":"E1","x":0.937,"y":0.22},{"g":"E1","x":0.939,"y":0.15},{"g":"E1","x":0.941,"y":0.395},{"g":"E1","x":0.942,"y":0.27},{"g":"E1","x":0.944,"y":0.37},{"g":"E1","x":0.946,"y":0.20},{"g":"E1","x":0.948,"y":0.33},{"g":"E1","x":0.950,"y":0.18},{"g":"E1","x":0.952,"y":0.30},{"g":"E1","x":0.954,"y":0.24},{"g":"E1","x":0.956,"y":0.32},{"g":"E1","x":0.958,"y":0.22},{"g":"E1","x":0.960,"y":0.30},{"g":"E1","x":0.963,"y":0.24},{"g":"E1","x":0.966,"y":0.33},{"g":"E1","x":0.969,"y":0.25},{"g":"E1","x":0.972,"y":0.31},{"g":"E1","x":0.975,"y":0.24},{"g":"E1","x":0.978,"y":0.32},{"g":"E1","x":0.981,"y":0.26},{"g":"E1","x":0.984,"y":0.34},{"g":"E1","x":0.987,"y":0.26},{"g":"E1","x":0.990,"y":0.32},{"g":"E1","x":0.993,"y":0.27},{"g":"E1","x":0.996,"y":0.33},{"g":"E1","x":0.999,"y":0.28},{"g":"E1","x":1.002,"y":0.34},{"g":"E1","x":1.005,"y":0.29},{"g":"E1","x":1.008,"y":0.35},{"g":"E1","x":1.011,"y":0.29},{"g":"E1","x":1.014,"y":0.33},{"g":"E1","x":1.017,"y":0.28},{"g":"E1","x":1.020,"y":0.35},{"g":"E1","x":1.023,"y":0.30},{"g":"E1","x":1.026,"y":0.36},{"g":"E1","x":1.029,"y":0.30},{"g":"E1","x":1.032,"y":0.35},{"g":"E1","x":1.035,"y":0.31},{"g":"E1","x":1.038,"y":0.37},{"g":"E1","x":1.041,"y":0.31},{"g":"E1","x":1.044,"y":0.36},{"g":"E1","x":1.047,"y":0.32},{"g":"E1","x":1.050,"y":0.38},{"g":"E1","x":1.053,"y":0.32},{"g":"E1","x":1.056,"y":0.37},{"g":"E1","x":1.059,"y":0.31},{"g":"E1","x":1.062,"y":0.36},{"g":"E1","x":1.065,"y":0.33},{"g":"E1","x":1.067,"y":0.29},{"g":"E1","x":1.070,"y":0.38},{"g":"E1","x":1.073,"y":0.32},{"g":"E1","x":1.076,"y":0.37},{"g":"E1","x":1.079,"y":0.30},{"g":"E1","x":1.082,"y":0.38},{"g":"E1","x":1.085,"y":0.33},{"g":"E1","x":1.088,"y":0.37},{"g":"E1","x":1.090,"y":0.33},{"g":"E1","x":1.092,"y":0.35},{"g":"E1","x":1.094,"y":0.535},{"g":"E1","x":1.096,"y":0.34},{"g":"E1","x":1.099,"y":0.38},{"g":"E1","x":1.102,"y":0.34},{"g":"E1","x":1.105,"y":0.39},{"g":"E1","x":1.108,"y":0.35},{"g":"E1","x":1.111,"y":0.38},{"g":"E1","x":1.114,"y":0.34},{"g":"E1","x":1.117,"y":0.40},{"g":"E1","x":1.119,"y":0.32},{"g":"E1","x":1.121,"y":0.47},{"g":"E1","x":1.123,"y":0.29},{"g":"E1","x":1.125,"y":0.39},{"g":"E1","x":1.128,"y":0.36},{"g":"E1","x":1.132,"y":0.40},{"g":"E1","x":1.136,"y":0.37},{"g":"E1","x":1.140,"y":0.40},{"g":"E1","x":1.144,"y":0.38},{"g":"E1","x":1.148,"y":0.41},{"g":"E1","x":1.152,"y":0.38},{"g":"E1","x":1.156,"y":0.41},{"g":"E1","x":1.160,"y":0.39},{"g":"E1","x":1.164,"y":0.41},{"g":"E1","x":1.168,"y":0.39},{"g":"E1","x":1.172,"y":0.42},{"g":"E1","x":1.176,"y":0.39},{"g":"E1","x":1.180,"y":0.42},{"g":"E1","x":1.184,"y":0.40},{"g":"E1","x":1.188,"y":0.42},{"g":"E1","x":1.192,"y":0.40},{"g":"E1","x":1.196,"y":0.43},{"g":"E1","x":1.200,"y":0.41},{"g":"E1","x":1.205,"y":0.43},{"g":"E1","x":1.210,"y":0.41},{"g":"E1","x":1.215,"y":0.43},{"g":"E1","x":1.220,"y":0.42},{"g":"E1","x":1.225,"y":0.44},{"g":"E1","x":1.230,"y":0.42},{"g":"E1","x":1.235,"y":0.44},{"g":"E1","x":1.240,"y":0.42},{"g":"E1","x":1.245,"y":0.44},{"g":"E1","x":1.250,"y":0.43},{"g":"E1","x":1.255,"y":0.45},{"g":"E1","x":1.260,"y":0.43},{"g":"E1","x":1.265,"y":0.44},{"g":"E1","x":1.270,"y":0.42},{"g":"E1","x":1.275,"y":0.44},{"g":"E1","x":1.279,"y":0.40},{"g":"E1","x":1.282,"y":1.00},{"g":"E1","x":1.284,"y":0.40},{"g":"E1","x":1.288,"y":0.44},{"g":"E1","x":1.292,"y":0.43},{"g":"E1","x":1.296,"y":0.45},{"g":"E1","x":1.300,"y":0.43},{"g":"E1","x":1.305,"y":0.45},{"g":"E1","x":1.310,"y":0.44},{"g":"E1","x":1.315,"y":0.46},{"g":"E1","x":1.320,"y":0.44},{"g":"E1","x":1.325,"y":0.45},{"g":"E1","x":1.330,"y":0.43},{"g":"E1","x":1.335,"y":0.45},{"g":"E1","x":1.340,"y":0.42},{"g":"E1","x":1.345,"y":0.40},{"g":"E1","x":1.350,"y":0.38},{"g":"E1","x":1.352,"y":0.45},{"g":"E1","x":1.354,"y":0.19},{"g":"E1","x":1.356,"y":0.50},{"g":"E1","x":1.358,"y":0.30},{"g":"E1","x":1.360,"y":0.46},{"g":"E1","x":1.362,"y":0.35},{"g":"E1","x":1.364,"y":0.51},{"g":"E1","x":1.366,"y":0.33},{"g":"E1","x":1.368,"y":0.44},{"g":"E1","x":1.370,"y":0.28},{"g":"E1","x":1.372,"y":0.43},{"g":"E1","x":1.374,"y":0.36},{"g":"E1","x":1.376,"y":0.48},{"g":"E1","x":1.378,"y":0.30},{"g":"E1","x":1.380,"y":0.42},{"g":"E1","x":1.382,"y":0.26},{"g":"E1","x":1.384,"y":0.47},{"g":"E1","x":1.386,"y":0.34},{"g":"E1","x":1.388,"y":0.45},{"g":"E1","x":1.390,"y":0.14},{"g":"E1","x":1.392,"y":0.52},{"g":"E1","x":1.394,"y":0.30},{"g":"E1","x":1.396,"y":0.60},{"g":"E1","x":1.398,"y":0.35},{"g":"E1","x":1.400,"y":0.48},{"g":"E1","x":1.403,"y":0.38},{"g":"E1","x":1.406,"y":0.46},{"g":"E1","x":1.410,"y":0.42},{"g":"E1","x":1.414,"y":0.45},{"g":"E1","x":1.418,"y":0.43},{"g":"E1","x":1.422,"y":0.46},{"g":"E1","x":1.426,"y":0.44},{"g":"E1","x":1.430,"y":0.47},{"g":"E1","x":1.432,"y":0.50},{"g":"E1","x":1.434,"y":0.45},{"g":"E1","x":1.440,"y":0.46},{"g":"E1","x":1.445,"y":0.44},{"g":"E1","x":1.450,"y":0.46},{"g":"E1","x":1.455,"y":0.45},{"g":"E1","x":1.460,"y":0.47},{"g":"E1","x":1.465,"y":0.45},{"g":"E1","x":1.470,"y":0.46},{"g":"E1","x":1.475,"y":0.45},{"g":"E1","x":1.480,"y":0.47},{"g":"E1","x":1.485,"y":0.45},{"g":"E1","x":1.490,"y":0.47},{"g":"E1","x":1.495,"y":0.46},{"g":"E1","x":1.500,"y":0.465},{"g":"E1","x":1.505,"y":0.48},{"g":"E1","x":1.510,"y":0.46},{"g":"E1","x":1.515,"y":0.47},{"g":"E1","x":1.520,"y":0.455},{"g":"E1","x":1.525,"y":0.47},{"g":"E1","x":1.530,"y":0.46},{"g":"E1","x":1.535,"y":0.48},{"g":"E1","x":1.540,"y":0.46},{"g":"E1","x":1.545,"y":0.47},{"g":"E1","x":1.550,"y":0.46},{"g":"E1","x":1.555,"y":0.48},{"g":"E1","x":1.560,"y":0.47},{"g":"E1","x":1.565,"y":0.485},{"g":"E1","x":1.570,"y":0.46},{"g":"E1","x":1.575,"y":0.48},{"g":"E1","x":1.580,"y":0.47},{"g":"E1","x":1.585,"y":0.49},{"g":"E1","x":1.590,"y":0.47},{"g":"E1","x":1.595,"y":0.49},{"g":"E1","x":1.600,"y":0.475},{"g":"E1","x":1.605,"y":0.49},{"g":"E1","x":1.610,"y":0.48},{"g":"E1","x":1.615,"y":0.50},{"g":"E1","x":1.620,"y":0.47},{"g":"E1","x":1.625,"y":0.49},{"g":"E1","x":1.630,"y":0.48},{"g":"E1","x":1.635,"y":0.50},{"g":"E1","x":1.640,"y":0.48},{"g":"E1","x":1.645,"y":0.51},{"g":"E1","x":1.650,"y":0.49},{"g":"E1","x":1.655,"y":0.50},{"g":"E1","x":1.660,"y":0.48},{"g":"E1","x":1.665,"y":0.51},{"g":"E1","x":1.670,"y":0.49},{"g":"E1","x":1.675,"y":0.51},{"g":"E1","x":1.678,"y":0.49},{"g":"E1","x":1.681,"y":0.545},{"g":"E1","x":1.684,"y":0.48},{"g":"E1","x":1.688,"y":0.51},{"g":"E1","x":1.692,"y":0.49},{"g":"E1","x":1.696,"y":0.52},{"g":"E1","x":1.700,"y":0.49},{"g":"E1","x":1.705,"y":0.51},{"g":"E1","x":1.710,"y":0.50},{"g":"E1","x":1.715,"y":0.52},{"g":"E1","x":1.720,"y":0.49},{"g":"E1","x":1.725,"y":0.51},{"g":"E1","x":1.730,"y":0.50},{"g":"E1","x":1.735,"y":0.51},{"g":"E1","x":1.737,"y":0.58},{"g":"E1","x":1.739,"y":0.50},{"g":"E1","x":1.745,"y":0.52},{"g":"E1","x":1.750,"y":0.49},{"g":"E1","x":1.755,"y":0.51},{"g":"E1","x":1.760,"y":0.50},{"g":"E1","x":1.765,"y":0.52},{"g":"E1","x":1.770,"y":0.49},{"g":"E1","x":1.775,"y":0.51},{"g":"E1","x":1.780,"y":0.50},{"g":"E1","x":1.785,"y":0.52},{"g":"E1","x":1.790,"y":0.49},{"g":"E1","x":1.795,"y":0.51},{"g":"E1","x":1.800,"y":0.50},{"g":"E1","x":1.805,"y":0.52},{"g":"E1","x":1.810,"y":0.49},{"g":"E1","x":1.813,"y":0.51},{"g":"E1","x":1.815,"y":0.54},{"g":"E1","x":1.816,"y":0.623},{"g":"E1","x":1.817,"y":0.47},{"g":"E1","x":1.818,"y":0.51},
{"g":"E2","x":1.880,"y":0.50},{"g":"E2","x":1.883,"y":0.47},{"g":"E2","x":1.886,"y":0.52},{"g":"E2","x":1.889,"y":0.46},{"g":"E2","x":1.892,"y":0.51},{"g":"E2","x":1.895,"y":0.45},{"g":"E2","x":1.898,"y":0.50},{"g":"E2","x":1.901,"y":0.47},{"g":"E2","x":1.904,"y":0.51},{"g":"E2","x":1.907,"y":0.46},{"g":"E2","x":1.910,"y":0.50},{"g":"E2","x":1.913,"y":0.48},{"g":"E2","x":1.916,"y":0.51},{"g":"E2","x":1.919,"y":0.47},{"g":"E2","x":1.922,"y":0.51},{"g":"E2","x":1.925,"y":0.49},{"g":"E2","x":1.928,"y":0.51},{"g":"E2","x":1.931,"y":0.48},{"g":"E2","x":1.934,"y":0.52},{"g":"E2","x":1.937,"y":0.49},{"g":"E2","x":1.941,"y":0.52},{"g":"E2","x":1.943,"y":0.625},{"g":"E2","x":1.946,"y":0.51},{"g":"E2","x":1.950,"y":0.52},{"g":"E2","x":1.955,"y":0.53},{"g":"E2","x":1.960,"y":0.52},{"g":"E2","x":1.965,"y":0.535},{"g":"E2","x":1.970,"y":0.525},{"g":"E2","x":1.975,"y":0.54},{"g":"E2","x":1.980,"y":0.53},{"g":"E2","x":1.985,"y":0.545},{"g":"E2","x":1.990,"y":0.54},{"g":"E2","x":1.994,"y":0.525},{"g":"E2","x":1.997,"y":0.55},{"g":"E2","x":2.000,"y":0.54},{"g":"E2","x":2.005,"y":0.555},{"g":"E2","x":2.010,"y":0.55},{"g":"E2","x":2.015,"y":0.56},{"g":"E2","x":2.020,"y":0.555},{"g":"E2","x":2.025,"y":0.565},{"g":"E2","x":2.030,"y":0.56},{"g":"E2","x":2.035,"y":0.57},{"g":"E2","x":2.040,"y":0.565},{"g":"E2","x":2.045,"y":0.575},{"g":"E2","x":2.050,"y":0.57},{"g":"E2","x":2.055,"y":0.58},{"g":"E2","x":2.060,"y":0.575},{"g":"E2","x":2.065,"y":0.583},{"g":"E2","x":2.070,"y":0.578},{"g":"E2","x":2.075,"y":0.587},{"g":"E2","x":2.080,"y":0.582},{"g":"E2","x":2.085,"y":0.59},{"g":"E2","x":2.090,"y":0.586},{"g":"E2","x":2.095,"y":0.595},{"g":"E2","x":2.100,"y":0.59},{"g":"E2","x":2.105,"y":0.598},{"g":"E2","x":2.110,"y":0.594},{"g":"E2","x":2.115,"y":0.602},{"g":"E2","x":2.120,"y":0.597},{"g":"E2","x":2.125,"y":0.604},{"g":"E2","x":2.130,"y":0.60},{"g":"E2","x":2.135,"y":0.607},{"g":"E2","x":2.140,"y":0.603},{"g":"E2","x":2.145,"y":0.61},{"g":"E2","x":2.150,"y":0.605},{"g":"E2","x":2.155,"y":0.612},{"g":"E2","x":2.160,"y":0.608},{"g":"E2","x":2.163,"y":0.62},{"g":"E2","x":2.165,"y":0.825},{"g":"E2","x":2.167,"y":0.62},{"g":"E2","x":2.170,"y":0.61},{"g":"E2","x":2.175,"y":0.618},{"g":"E2","x":2.180,"y":0.613},{"g":"E2","x":2.185,"y":0.62},{"g":"E2","x":2.190,"y":0.616},{"g":"E2","x":2.195,"y":0.624},{"g":"E2","x":2.200,"y":0.62},{"g":"E2","x":2.205,"y":0.628},{"g":"E2","x":2.210,"y":0.624},{"g":"E2","x":2.215,"y":0.632},{"g":"E2","x":2.220,"y":0.628},{"g":"E2","x":2.225,"y":0.636},{"g":"E2","x":2.230,"y":0.632},{"g":"E2","x":2.235,"y":0.64},{"g":"E2","x":2.240,"y":0.636},{"g":"E2","x":2.245,"y":0.644},{"g":"E2","x":2.250,"y":0.64},{"g":"E2","x":2.255,"y":0.648},{"g":"E2","x":2.260,"y":0.644},{"g":"E2","x":2.265,"y":0.652},{"g":"E2","x":2.270,"y":0.648},{"g":"E2","x":2.275,"y":0.656},{"g":"E2","x":2.280,"y":0.652},{"g":"E2","x":2.285,"y":0.66},{"g":"E2","x":2.290,"y":0.655},{"g":"E2","x":2.295,"y":0.663},{"g":"E2","x":2.300,"y":0.658},{"g":"E2","x":2.305,"y":0.666},{"g":"E2","x":2.310,"y":0.662},{"g":"E2","x":2.315,"y":0.669},{"g":"E2","x":2.320,"y":0.664},{"g":"E2","x":2.325,"y":0.672},{"g":"E2","x":2.330,"y":0.668},{"g":"E2","x":2.335,"y":0.675},{"g":"E2","x":2.340,"y":0.671},{"g":"E2","x":2.345,"y":0.678},{"g":"E2","x":2.350,"y":0.674},{"g":"E2","x":2.355,"y":0.681},{"g":"E2","x":2.360,"y":0.677},{"g":"E2","x":2.365,"y":0.684},{"g":"E2","x":2.370,"y":0.68},{"g":"E2","x":2.375,"y":0.687},{"g":"E2","x":2.380,"y":0.683},{"g":"E2","x":2.385,"y":0.69},{"g":"E2","x":2.390,"y":0.686},{"g":"E2","x":2.395,"y":0.693},{"g":"E2","x":2.400,"y":0.689},{"g":"E2","x":2.405,"y":0.696},{"g":"E2","x":2.410,"y":0.692}
]
},
"layer": [
{
"data": {"name": "spec"},
"mark": {"type": "line", "color": "black", "strokeWidth": 1.7, "clip": true, "strokeJoin": "round"},
"encoding": {
"x": {"field": "x", "type": "quantitative",
 "scale": {"domain": [0.808, 2.41], "nice": false, "zero": false},
 "axis": {"orient": "bottom", "values": [0.9,1.0,1.1,1.2,1.3,1.4,1.5,1.6,1.7,1.8,1.9,2.0,2.1,2.2,2.3,2.4],
  "tickSize": {"condition": {"test": "abs(datum.value*2 - round(datum.value*2)) < 0.001", "value": -19}, "value": -10},
  "tickWidth": 2, "tickColor": "black", "domainColor": "black", "domainWidth": 2, "grid": false,
  "labelExpr": "abs(datum.value*2 - round(datum.value*2)) < 0.001 ? format(datum.value, '.1f') : ''",
  "labelFont": "Liberation Sans", "labelFontSize": 42, "labelColor": "black", "labelPadding": 41, "labelOverlap": false, "labelFlush": false,
  "title": "Wavelength (microns)", "titleFont": "Liberation Sans", "titleFontSize": 44, "titleFontWeight": "normal", "titleColor": "black",
  "titleX": 490, "titleY": 102, "titleBaseline": "alphabetic", "titleAlign": "center"}},
"y": {"field": "y", "type": "quantitative",
 "scale": {"domain": [-0.015, 5.0], "nice": false, "zero": false},
 "axis": {"orient": "left", "values": [0,0.1,0.2,0.3,0.4,0.5,0.6,0.7,0.8,0.9,1,1.1,1.2,1.3,1.4,1.5,1.6,1.7,1.8,1.9,2,2.1,2.2,2.3,2.4,2.5,2.6,2.7,2.8,2.9,3,3.1,3.2,3.3,3.4,3.5,3.6,3.7,3.8,3.9,4,4.1,4.2,4.3,4.4,4.5,4.6,4.7,4.8,4.9,5],
  "tickSize": {"condition": {"test": "abs(datum.value - round(datum.value)) < 0.001", "value": -19}, "value": -10},
  "tickWidth": 2, "tickColor": "black", "domainColor": "black", "domainWidth": 2, "grid": false,
  "labelExpr": "abs(datum.value - round(datum.value)) < 0.001 ? format(datum.value, 'd') : ''",
  "labelFont": "Liberation Sans", "labelFontSize": 42, "labelColor": "black", "labelPadding": 33, "labelOverlap": false, "labelFlush": false,
  "labelOffset": {"condition": [{"test": "datum.value < 0.05", "value": -10}, {"test": "datum.value > 4.95", "value": 13}], "value": 0},
  "title": "Normalized flux + constant", "titleFont": "Liberation Sans", "titleFontSize": 44, "titleFontWeight": "normal", "titleColor": "black",
  "titleX": -71, "titleY": 476, "titleAngle": -90, "titleBaseline": "alphabetic", "titleAlign": "center"}},
"detail": {"field": "g", "type": "nominal"}
}
},
{
"data": {"name": "labels"},
"mark": {"type": "text", "align": "right", "baseline": "middle", "font": "Liberation Sans", "fontSize": 25.5, "color": "black"},
"encoding": {
"x": {"field": "x", "type": "quantitative",
 "scale": {"domain": [0.808, 2.41], "nice": false, "zero": false},
 "axis": {"orient": "top", "values": [0.9,1.0,1.1,1.2,1.3,1.4,1.5,1.6,1.7,1.8,1.9,2.0,2.1,2.2,2.3,2.4],
  "tickSize": {"condition": {"test": "abs(datum.value*2 - round(datum.value*2)) < 0.001", "value": -19}, "value": -10},
  "tickWidth": 2, "tickColor": "black", "domainColor": "black", "domainWidth": 2, "grid": false, "labels": false, "title": null}},
"y": {"field": "y", "type": "quantitative",
 "scale": {"domain": [-0.015, 5.0], "nice": false, "zero": false},
 "axis": {"orient": "right", "values": [0,0.1,0.2,0.3,0.4,0.5,0.6,0.7,0.8,0.9,1,1.1,1.2,1.3,1.4,1.5,1.6,1.7,1.8,1.9,2,2.1,2.2,2.3,2.4,2.5,2.6,2.7,2.8,2.9,3,3.1,3.2,3.3,3.4,3.5,3.6,3.7,3.8,3.9,4,4.1,4.2,4.3,4.4,4.5,4.6,4.7,4.8,4.9,5],
  "tickSize": {"condition": {"test": "abs(datum.value - round(datum.value)) < 0.001", "value": -19}, "value": -10},
  "tickWidth": 2, "tickColor": "black", "domainColor": "black", "domainWidth": 2, "grid": false, "labels": false, "title": null}},
"text": {"field": "t", "type": "nominal"}
}
}
]
}
